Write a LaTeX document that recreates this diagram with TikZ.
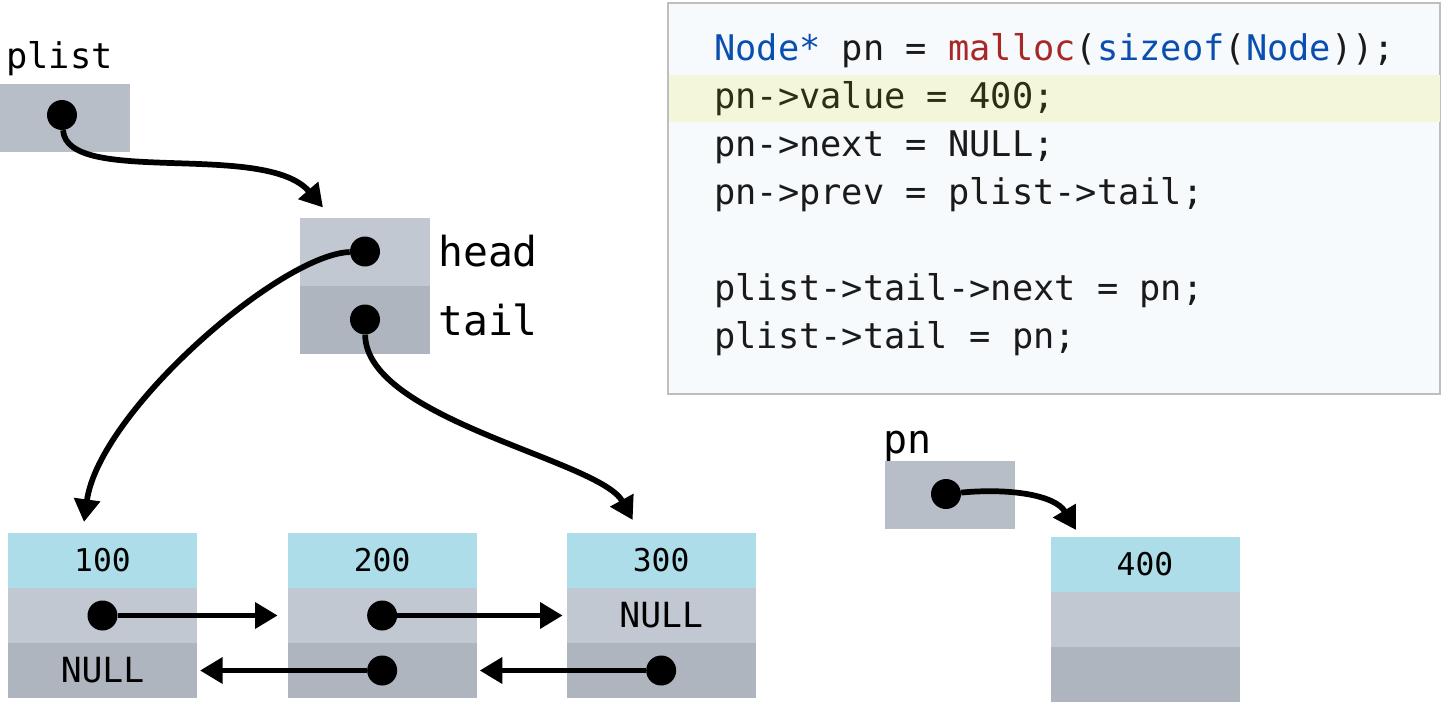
\documentclass[tikz,border=0pt]{standalone}
\usepackage{fontspec}
\setmonofont{DejaVu Sans Mono}
\usepackage{xcolor}
\usepackage{tikz}
\usetikzlibrary{arrows.meta, positioning}
\definecolor{valblue}{HTML}{ADDDE8}
\definecolor{nextgray}{HTML}{C2C8D2}
\definecolor{prevgray}{HTML}{AFB5BF}
\definecolor{ptrgray}{HTML}{B8BEC8}
\definecolor{codebg}{HTML}{F7FAFC}
\definecolor{codeframe}{HTML}{BEBEBE}
\definecolor{hilite}{HTML}{F4F6DB}
\definecolor{kwblue}{HTML}{0A4FB0}
\definecolor{fnred}{HTML}{A82828}
\definecolor{codetext}{HTML}{1A1A1A}
\definecolor{hltext}{HTML}{2E2E14}
\tikzset{%
	cell/.style={rectangle, inner sep=0pt, outer sep=0pt, minimum width=141.75pt,%
		minimum height=41.25pt, font=\fontsize{23.5}{26}\selectfont\ttfamily},
	val/.style={cell, fill=valblue},
	nxt/.style={cell, fill=nextgray},
	prv/.style={cell, fill=prevgray},
	nulltxt/.style={font=\fontsize{26}{30}\selectfont\ttfamily},
	ptr/.style={rectangle, inner sep=0pt, outer sep=0pt, minimum width=97.5pt,%
		minimum height=51pt, fill=ptrgray},
	dot/.style={circle, fill=black, inner sep=0pt, minimum size=22.5pt},
	link/.style={-{Triangle[length=17pt, width=19pt]}, line width=4.3pt},
	lbl/.style={inner sep=0pt, anchor=base west, font=\fontsize{26.5}{30}\selectfont\ttfamily},
	fieldname/.style={inner sep=0pt, font=\fontsize{31}{34}\selectfont\ttfamily},
	codebox/.style={draw=codeframe, line width=1.5pt, fill=codebg, inner sep=0pt},
	codeline/.style={inner sep=0pt, anchor=base west, text=codetext,%
		font=\fontsize{26.5}{30}\selectfont\ttfamily}
}
\begin{document}
\begin{tikzpicture}[x=0.75pt, y=0.75pt]
	\useasboundingbox (0,0) rectangle (1441,-703);

	% code listing
	\node[codebox, anchor=north west, minimum width=579pt, minimum height=293.25pt] (code) at (667,-2) {};
	\fill[hilite] (668.5,-75) rectangle (1439.5,-122);
	\node[codeline] (line1) at (714,-60) {\textcolor{kwblue}{Node*} pn = \textcolor{fnred}{malloc}(\textcolor{kwblue}{sizeof}(\textcolor{kwblue}{Node}));};
	\node[codeline, text=hltext] (line2) at (714,-108) {pn->value = 400;};
	\node[codeline] (line3) at (714,-156) {pn->next = NULL;};
	\node[codeline] (line4) at (714,-204) {pn->prev = plist->tail;};
	\node[codeline] (line5) at (714,-300) {plist->tail->next = pn;};
	\node[codeline] (line6) at (714,-348) {plist->tail = pn;};

	% list header
	\node[lbl] (plistname) at (6,-68) {plist};
	\node[ptr] (plist) at (65,-118) {};
	\node[dot] (plistdot) at ([shift={(-3,3)}]plist.center) {};
	\node[ptr, fill=nextgray] (head) at (365,-251.5) {};
	\node[ptr, fill=prevgray, below=0pt of head] (tail) {};
	\node[fieldname, right=6pt of head] (headname) {head};
	\node[fieldname, right=6pt of tail] (tailname) {tail};
	\node[dot] (headdot) at (head) {};
	\node[dot] (taildot) at (tail) {};

	% list nodes
	\node[val] (val1) at (102.5,-560.5) {100};
	\node[nxt, below=0pt of val1] (next1) {};
	\node[prv, nulltxt, below=0pt of next1] (prev1) {NULL};
	\node[val, right=68pt of val1] (val2) {200};
	\node[nxt, below=0pt of val2] (next2) {};
	\node[prv, below=0pt of next2] (prev2) {};
	\node[val, right=67.5pt of val2] (val3) {300};
	\node[nxt, nulltxt, below=0pt of val3] (next3) {NULL};
	\node[prv, below=0pt of next3] (prev3) {};
	\node[dot] (nd1) at (next1) {};
	\node[dot] (nd2) at (next2) {};
	\node[dot] (pd2) at (prev2) {};
	\node[dot] (pd3) at (prev3) {};

	% new node
	\node[lbl, font=\fontsize{30}{34}\selectfont\ttfamily] (pnname) at (883,-453) {pn};
	\node[ptr] (pn) at (950,-495) {};
	\node[dot] (pndot) at ([shift={(-4,1)}]pn.center) {};
	\node[val] (val4) at (1145,-564.5) {400};
	\node[nxt, below=0pt of val4] (next4) {};
	\node[prv, below=0pt of next4] (prev4) {};

	\coordinate (tohead) at ([shift={(-42,10)}]head.north);
	\coordinate (to100) at ([shift={(-18.5,11)}]val1.north);
	\coordinate (to300) at ([shift={(-28.5,13)}]val3.north);
	\coordinate (to400) at ([shift={(-69,7)}]val4.north);

	\draw[link] (plistdot) .. controls +(5,-72) and +(-58,67) .. (tohead);
	\draw[link] (headdot) .. controls +(-85,-3) and +(15,110) .. (to100);
	\draw[link] (taildot) .. controls +(1,-100) and +(-33,60) .. (to300);
	\draw[link] (pndot) .. controls +(64,6) and +(-21,35) .. (to400);

	\draw[link, shorten >=7.5pt] (nd1) -- (nd1 -| next2.west);
	\draw[link, shorten >=3pt] (nd2) -- (nd2 -| next3.west);
	\draw[link, shorten >=2.25pt] (pd2) -- (pd2 -| prev1.east);
	\draw[link, shorten >=2.25pt] (pd3) -- (pd3 -| prev2.east);
\end{tikzpicture}
\end{document}
